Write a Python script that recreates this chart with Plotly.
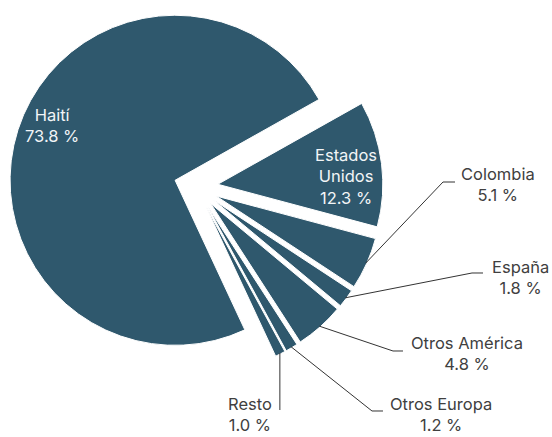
import math
import plotly.graph_objects as go

# ---- data ----
labels = ["Haití", "Estados Unidos", "Colombia", "España", "Otros América", "Otros Europa", "Resto"]
values = [73.8, 12.3, 5.1, 1.8, 4.8, 1.2, 1.0]
display_text = ["Haití<br>73.8 %", "Estados<br>Unidos<br>12.3 %", "Colombia<br>5.1 %", "España<br>1.8 %",
                "Otros América<br>4.8 %", "Otros Europa<br>1.2 %", "Resto<br>1.0 %"]

# ---- layout / style ----
W, H = 552, 437
ROT = 155
PULL = 0.133
CX = 196
R_OUT = 187                      # radius * (1 + pull), in px
COLOR = "#2F586D"
FONT = "Inter"
FONT_SIZE = 16.5
inside = [True, True, False, False, False, False, False]
label_pos_px = [(52, 126), (346, 177), (498, 184), (520, 277), (467, 353), (441, 414), (250, 414)]
elbow_px = [None, None, [(443, 182), (455, 182)], [(472, 273), (483, 273)],
            [(393, 351), (403, 351)], [(372, 411), (383, 411)], "down"]
RESTO_LINE_END = 410

dom_x = [(CX - R_OUT) / W, (CX + R_OUT) / W]
dom_y = [1 - 2 * R_OUT / H, 1]
CY = R_OUT
r = R_OUT / (1 + PULL)
d = PULL * r


def px2paper(x, y):
    return x / W, 1 - y / H


fig = go.Figure(go.Pie(
    labels=labels, values=values, sort=False, direction="clockwise", rotation=ROT,
    pull=[PULL] * len(values), textinfo="none", hoverinfo="label+percent",
    marker=dict(colors=[COLOR] * len(values), line=dict(color="white", width=1)),
    domain=dict(x=dom_x, y=dom_y), showlegend=False,
))

total = sum(values)
cum = 0.0
shapes, annotations = [], []
for i, v in enumerate(values):
    mid = math.radians(ROT + 360 * (cum + v / 2) / total)
    cum += v
    ex = CX + (r + d - 1) * math.sin(mid)
    ey = CY - (r + d - 1) * math.cos(mid)
    lx, ly = label_pos_px[i]
    px, py = px2paper(lx, ly)
    annotations.append(dict(
        x=px, y=py, xref="paper", yref="paper", text=display_text[i], showarrow=False,
        xanchor="center", yanchor="middle", align="center",
        font=dict(family=FONT, size=FONT_SIZE, color="#F2F5F7" if inside[i] else "#404040"),
    ))
    eb = elbow_px[i]
    if eb is None:
        continue
    if eb == "down":
        pts = [(ex, ey), (ex, RESTO_LINE_END)]
    else:
        pts = [(ex, ey)] + list(eb)
    path = ""
    for k, (x, y) in enumerate(pts):
        qx, qy = px2paper(x, y)
        path += ("M" if k == 0 else " L") + f" {qx:.5f} {qy:.5f}"
    shapes.append(dict(type="path", xref="paper", yref="paper", path=path,
                       line=dict(color="#333333", width=1)))

fig.update_layout(
    width=W, height=H, margin=dict(l=0, r=0, t=0, b=0),
    paper_bgcolor="white", plot_bgcolor="white",
    shapes=shapes, annotations=annotations,
)
fig.write_html("out.html", config={"displayModeBar": False},
               post_script="document.body.style.margin='0';document.body.style.padding='0';")
